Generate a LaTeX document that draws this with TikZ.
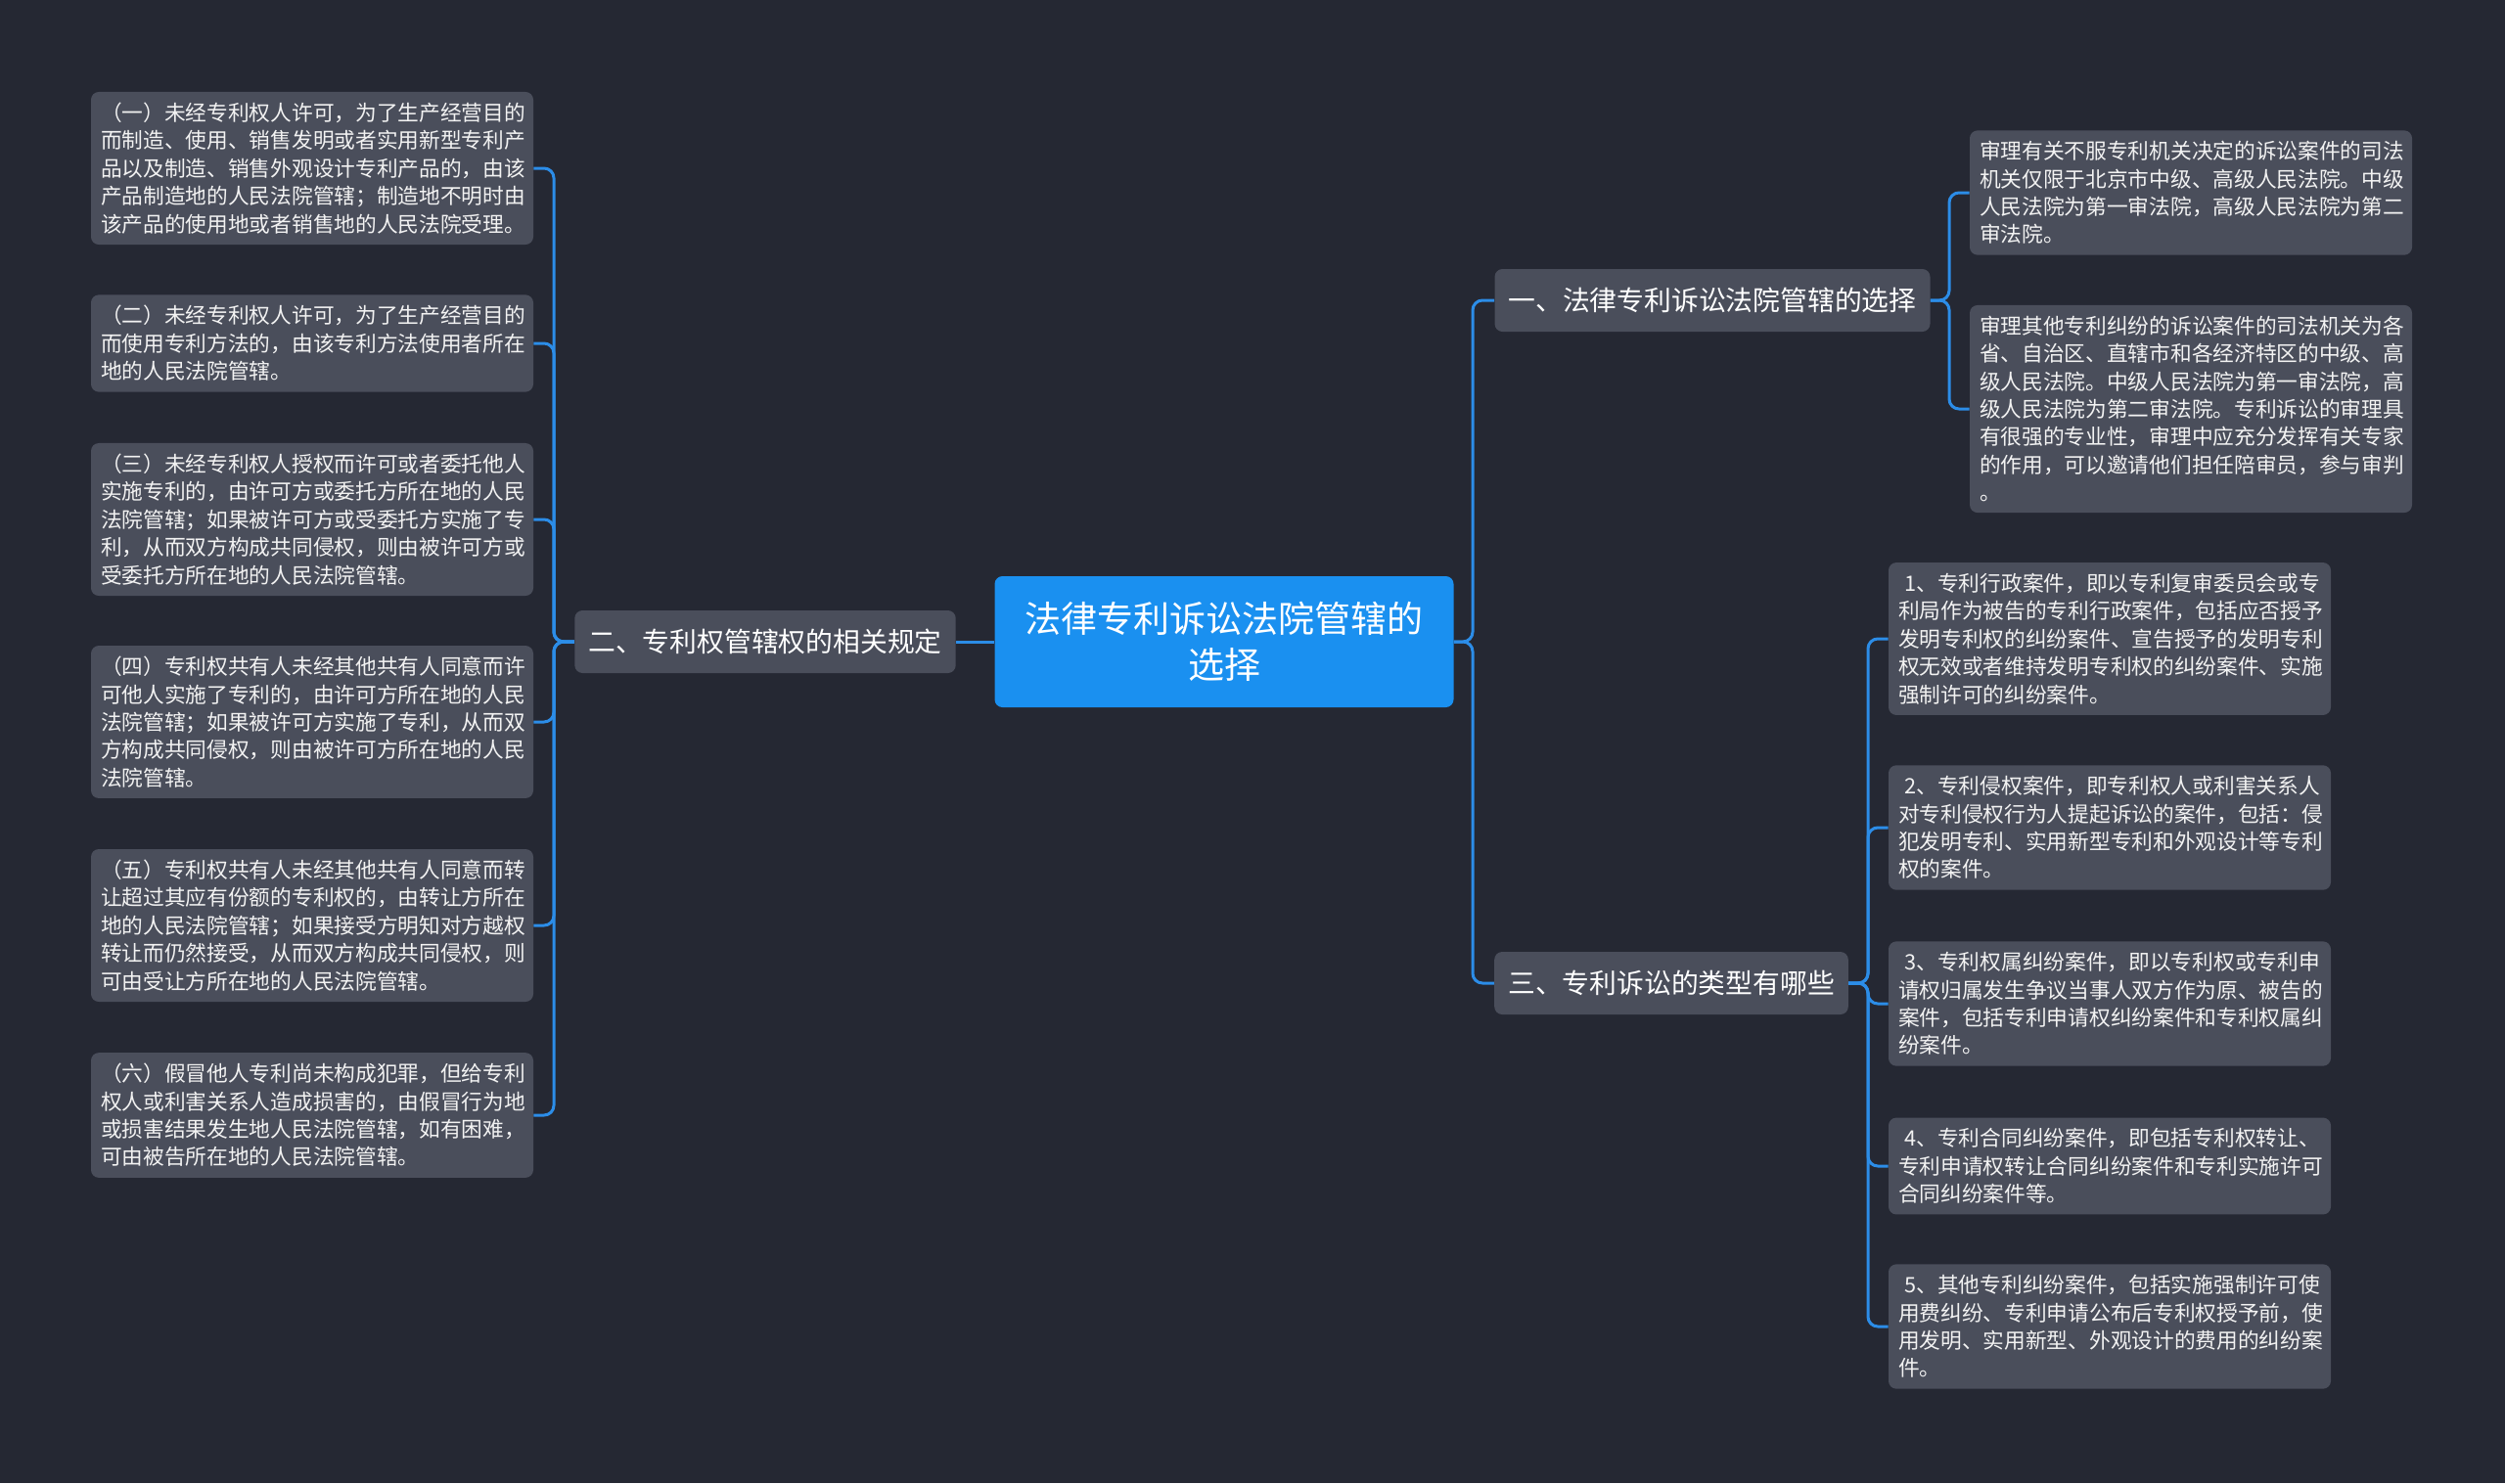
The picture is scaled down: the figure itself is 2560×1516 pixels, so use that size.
\documentclass[tikz,border=0pt]{standalone}
\usepackage{fontspec}
\setmainfont{Noto Sans CJK SC}

\begin{document}
\begin{tikzpicture}[x=0.5pt,y=-0.5pt,
   leaf/.style={fill=boxgray, text=leaftext, rounded corners=4pt, inner xsep=5pt, inner ysep=5.5pt, text width=216pt, align=left, font=\fontsize{10.85}{14.2}\selectfont},
   topic/.style={fill=boxgray, text=white, rounded corners=4pt, inner xsep=7pt, minimum height=32pt, font=\fontsize{13.9}{16}\selectfont},
   link/.style={draw=linkblue, line width=1.5pt, rounded corners=5pt}]
   \definecolor{bgdark}{HTML}{252833}
   \definecolor{boxgray}{HTML}{4A4E5B}
   \definecolor{leaftext}{HTML}{F2F2F2}
   \definecolor{rootblue}{HTML}{1A90F0}
   \definecolor{linkblue}{HTML}{2C8DE8}
   \fill[bgdark] (0,0) rectangle (2560,1516);

   \node[fill=rootblue, text=white, rounded corners=4pt, inner xsep=15pt, minimum width=234.5pt, minimum height=67pt, text width=204.5pt, align=center, font=\fontsize{18.5}{23.7}\selectfont] (root) at (1251,656) {法律专利诉讼法院管辖的\\选择};

   \node[topic] (n2) at (782,656) {二、专利权管辖权的相关规定};
   \node[topic] (n1) at (1750,307) {一、法律专利诉讼法院管辖的选择};
   \node[topic] (n3) at (1708,1005) {三、专利诉讼的类型有哪些};

   \node[leaf] (l1) at (319,172) {（一）未经专利权人许可，为了生产经营目的\\而制造、使用、销售发明或者实用新型专利产\\品以及制造、销售外观设计专利产品的，由该\\产品制造地的人民法院管辖；制造地不明时由\\该产品的使用地或者销售地的人民法院受理。};
   \node[leaf] (l2) at (319,351) {（二）未经专利权人许可，为了生产经营目的\\而使用专利方法的，由该专利方法使用者所在\\地的人民法院管辖。};
   \node[leaf] (l3) at (319,531) {（三）未经专利权人授权而许可或者委托他人\\实施专利的，由许可方或委托方所在地的人民\\法院管辖；如果被许可方或受委托方实施了专\\利，从而双方构成共同侵权，则由被许可方或\\受委托方所在地的人民法院管辖。};
   \node[leaf] (l4) at (319,738) {（四）专利权共有人未经其他共有人同意而许\\可他人实施了专利的，由许可方所在地的人民\\法院管辖；如果被许可方实施了专利，从而双\\方构成共同侵权，则由被许可方所在地的人民\\法院管辖。};
   \node[leaf] (l5) at (319,946) {（五）专利权共有人未经其他共有人同意而转\\让超过其应有份额的专利权的，由转让方所在\\地的人民法院管辖；如果接受方明知对方越权\\转让而仍然接受，从而双方构成共同侵权，则\\可由受让方所在地的人民法院管辖。};
   \node[leaf] (l6) at (319,1140) {（六）假冒他人专利尚未构成犯罪，但给专利\\权人或利害关系人造成损害的，由假冒行为地\\或损害结果发生地人民法院管辖，如有困难，\\可由被告所在地的人民法院管辖。};

   \node[leaf] (ra) at (2239,197) {审理有关不服专利机关决定的诉讼案件的司法\\机关仅限于北京市中级、高级人民法院。中级\\人民法院为第一审法院，高级人民法院为第二\\审法院。};
   \node[leaf] (rb) at (2239,418) {审理其他专利纠纷的诉讼案件的司法机关为各\\省、自治区、直辖市和各经济特区的中级、高\\级人民法院。中级人民法院为第一审法院，高\\级人民法院为第二审法院。专利诉讼的审理具\\有很强的专业性，审理中应充分发挥有关专家\\的作用，可以邀请他们担任陪审员，参与审判\\。};

   \node[leaf] (r1) at (2156,653) {\hspace*{0.3em}1、专利行政案件，即以专利复审委员会或专\\利局作为被告的专利行政案件，包括应否授予\\发明专利权的纠纷案件、宣告授予的发明专利\\权无效或者维持发明专利权的纠纷案件、实施\\强制许可的纠纷案件。};
   \node[leaf] (r2) at (2156,846) {\hspace*{0.3em}2、专利侵权案件，即专利权人或利害关系人\\对专利侵权行为人提起诉讼的案件，包括：侵\\犯发明专利、实用新型专利和外观设计等专利\\权的案件。};
   \node[leaf] (r3) at (2156,1026) {\hspace*{0.3em}3、专利权属纠纷案件，即以专利权或专利申\\请权归属发生争议当事人双方作为原、被告的\\案件，包括专利申请权纠纷案件和专利权属纠\\纷案件。};
   \node[leaf] (r4) at (2156,1192) {\hspace*{0.3em}4、专利合同纠纷案件，即包括专利权转让、\\专利申请权转让合同纠纷案件和专利实施许可\\合同纠纷案件等。};
   \node[leaf] (r5) at (2156,1356) {\hspace*{0.3em}5、其他专利纠纷案件，包括实施强制许可使\\用费纠纷、专利申请公布后专利权授予前，使\\用发明、实用新型、外观设计的费用的纠纷案\\件。};

   \coordinate (lbus) at (566,656);
   \coordinate (cbus) at (1505,656);
   \coordinate (abus) at (1992,307);
   \coordinate (bbus) at (1909,1005);

   \draw[link] (root.west) -- (n2.east);
   \foreach \i in {1,...,6} \draw[link] (n2.west) -- (lbus) |- (l\i.east);
   \foreach \t in {n1,n3} \draw[link] (root.east) -- (cbus) |- (\t.west);
   \foreach \t in {ra,rb} \draw[link] (n1.east) -- (abus) |- (\t.west);
   \foreach \i in {1,...,5} \draw[link] (n3.east) -- (bbus) |- (r\i.west);
\end{tikzpicture}
\end{document}
